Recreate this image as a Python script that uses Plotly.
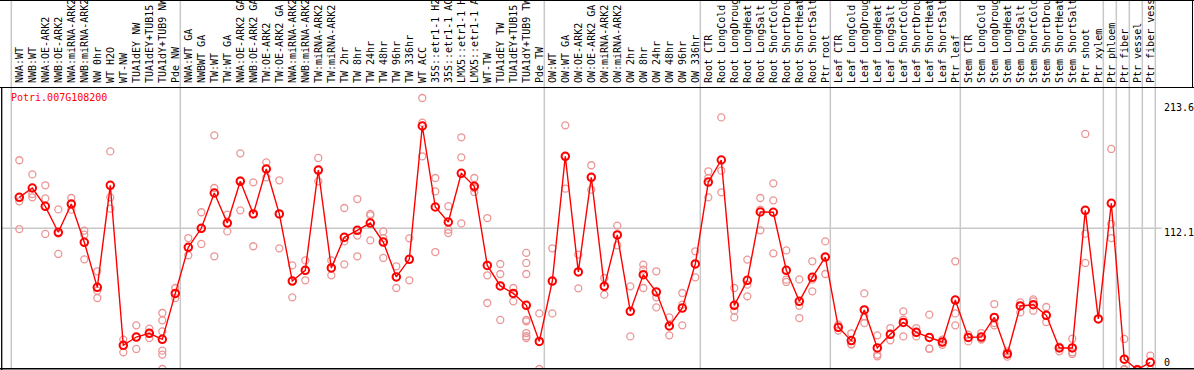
import plotly.graph_objects as go

gene_id = "Potri.007G108200"

categories = [
    "NWA:WT", "NWB:WT", "NWA:OE-ARK2", "NWB:OE-ARK2", "NWA:miRNA-ARK2", "NWB:miRNA-ARK2",
    "NW 0hr", "WT H2O", "WT-NW", "TUA1dEY NW", "TUA1dEY+TUB15 NW", "TUA1dY+TUB9 NW", "Pde NW",
    "NWA:WT GA", "NWBWT GA", "TW:WT", "TW:WT GA", "NWA:OE-ARK2 GA", "NWB:OE-ARK2 GA",
    "TW:OE-ARK2", "TW:OE-ARK2 GA", "NWA:miRNA-ARK2", "NWB:miRNA-ARK2", "TW:miRNA-ARK2",
    "TW:miRNA-ARK2", "TW 2hr", "TW 8hr", "TW 24hr", "TW 48hr", "TW 96hr", "TW 336hr",
    "WT ACC", "35S::etr1-1 H2O", "35S::etr1-1 ACC", "LMX5::etr1-1 H2O", "LMX5::etr1-1 ACC",
    "WT-TW", "TUA1dEY TW", "TUA1dEY+TUB15 TW", "TUA1dY+TUB9 TW", "Pde TW",
    "OW:WT", "OW:WT GA", "OW:OE-ARK2", "OW:OE-ARK2 GA", "OW:miRNA-ARK2", "OW:miRNA-ARK2",
    "OW 2hr", "OW 8hr", "OW 24hr", "OW 48hr", "OW 96hr", "OW 336hr",
    "Root CTR", "Root LongCold", "Root LongDrought", "Root LongHeat", "Root LongSalt",
    "Root ShortCold", "Root ShortDrought", "Root ShortHeat", "Root ShortSalt", "Ptr root",
    "Leaf CTR", "Leaf LongCold", "Leaf LongDrought", "Leaf LongHeat", "Leaf LongSalt",
    "Leaf ShortCold", "Leaf ShortDrought", "Leaf ShortHeat", "Leaf ShortSalt", "Ptr leaf",
    "Stem CTR", "Stem LongCold", "Stem LongDrought", "Stem LongHeat", "Stem LongSalt",
    "Stem ShortCold", "Stem ShortDrought", "Stem ShortHeat", "Stem ShortSalt",
    "Ptr shoot", "Ptr xylem", "Ptr phloem", "Ptr fiber", "Ptr vessel", "Ptr fiber vessel",
]

mean_values = [
    136.2, 143.5, 129.2, 109.0, 131.0, 101.2, 66.1, 145.6, 20.9, 27.4, 30.3, 25.6, 61.4,
    97.3, 112.1, 139.6, 116.2, 148.7, 123.3, 158.3, 123.3, 71.0, 79.4, 157.5, 81.2,
    105.1, 110.5, 116.2, 101.4, 74.2, 87.9, 191.8, 128.7, 117.0, 154.9, 144.8, 83.2,
    67.2, 61.4, 52.1, 24.0,
    71.0, 168.2, 78.1, 151.8, 66.9, 106.9, 47.4, 76.0, 62.5, 36.0, 50.0, 84.3,
    148.1, 165.3, 52.1, 71.6, 124.8, 124.6, 79.4, 55.2, 73.9, 89.7,
    35.0, 24.6, 48.5, 18.9, 29.5, 38.8, 31.1, 27.1, 23.5, 56.2,
    27.1, 27.4, 42.7, 14.2, 51.6, 52.6, 44.3, 18.9, 18.9,
    126.1, 41.5, 131.6, 10.1, 2.0, 7.7,
]

replicate_values = [
    [165.1, 133.1, 111.5], [154.1, 138.8, 136.2], [145.6, 135.4, 107.7], [126.8, 107.9, 92.1],
    [135.7, 131.0, 126.6], [110.3, 107.1, 87.9], [78.6, 63.5, 57.8], [172.0, 136.2, 127.4],
    [25.4, 20.9, 15.5], [36.5, 27.4, 18.1], [33.9, 30.3, 26.6],
    [46.1, 40.4, 31.8, 16.8, 13.7, 2.5], [65.6, 61.4, 57.8],
    [104.5, 97.3, 91.1], [124.6, 112.1, 99.9], [184.5, 143.5, 90.3], [122.8, 116.2, 109.7],
    [170.5, 149.5, 126.1], [147.9, 123.3, 98.1], [163.5, 158.3, 151.8], [149.5, 123.3, 96.5],
    [83.2, 71.0, 58.3], [87.1, 79.4, 71.6], [166.9, 157.5, 148.7], [87.1, 81.2, 75.5],
    [127.9, 101.9, 84.0], [134.9, 106.4, 90.3], [123.3, 122.2, 102.7], [109.7, 104.5, 89.0],
    [82.5, 74.2, 65.6], [104.3, 87.9, 71.6], [213.6, 194.4, 168.2], [151.3, 140.9, 93.6],
    [129.3, 111.0, 108.4], [183.0, 167.4, 115.9], [151.3, 143.5, 140.4], [120.1, 75.5, 53.9],
    [84.3, 76.5, 40.7], [65.6, 61.4, 55.2],
    [92.9, 85.1, 76.5, 40.7, 39.6, 30.5, 28.0, 26.6], [45.8, 24.0, 2.5],
    [96.5, 71.0, 45.8], [192.3, 168.2, 143.0], [91.6, 78.1, 65.3], [161.2, 151.8, 142.2],
    [73.4, 66.9, 60.4], [114.2, 106.9, 98.8], [66.9, 47.4, 27.9], [83.8, 79.9, 65.6],
    [78.6, 58.3, 50.5], [42.7, 36.0, 28.7], [61.7, 52.6, 36.5], [94.2, 84.3, 73.9],
    [156.5, 151.3, 136.2], [198.5, 157.0, 140.1], [65.6, 47.9, 42.7], [87.7, 68.2, 59.1],
    [135.7, 126.6, 110.5], [147.1, 133.9, 92.6], [94.9, 72.1, 70.3], [72.3, 51.8, 42.2],
    [86.4, 72.1, 63.0], [101.9, 89.7, 76.5],
    [37.0, 35.0, 32.4], [30.3, 22.0, 21.5], [61.4, 43.5, 38.3], [28.7, 13.7, 12.4],
    [34.4, 29.5, 24.8], [47.4, 40.9, 27.9], [34.4, 31.1, 27.9], [44.8, 18.3, 18.3],
    [25.4, 23.5, 21.4], [86.4, 45.8, 36.5],
    [29.2, 27.1, 24.0], [30.5, 26.1, 25.4], [53.1, 38.3, 36.5], [16.3, 14.2, 12.1],
    [54.4, 51.6, 46.6], [56.7, 55.2, 47.9], [50.8, 44.3, 39.1], [19.9, 18.9, 16.3],
    [26.1, 15.5, 14.2],
    [185.6, 107.9, 85.1], [41.5], [173.9, 115.5, 104.5], [25.9, 2.5, 2.0], [2.5, 1.5],
    [12.9, 7.7, 2.0],
]

# group separators: vertical grid lines after these category counts
separators_after = [0, 13, 41, 53, 63, 73, 84, 85, 86, 87, 88]
y_tick_labels = ["213.6", "112.1", "0"]
y_grid_value = 112.1

W, H = 1194, 370
TOP, BOT = 88, 1
plot_h = H - TOP - BOT

x_idx = list(range(len(categories)))
rep_x = [i for i, reps in enumerate(replicate_values) for _ in reps]
rep_y = [v for reps in replicate_values for v in reps]

mono = "DejaVu Sans Mono"
fig = go.Figure()
fig.add_trace(go.Scatter(
    x=rep_x, y=rep_y, mode="markers",
    marker=dict(symbol="circle-open", size=7, color="rgb(235,150,150)", line=dict(width=1.3)),
    hoverinfo="skip", showlegend=False,
))
fig.add_trace(go.Scatter(
    x=x_idx, y=mean_values, mode="lines+markers",
    line=dict(color="#ff0000", width=1.4),
    marker=dict(symbol="circle-open", size=7.5, color="#ff0000", line=dict(width=2)),
    showlegend=False,
))

ypx = lambda py: (H - BOT - py) / plot_h  # pixel row -> paper y

shapes = []
for k in separators_after:
    xv = k - 1 + 0.385
    shapes.append(dict(type="line", xref="x", yref="paper", x0=xv, x1=xv, y0=0, y1=ypx(0),
                       line=dict(color="#c8c8c8", width=1.5), layer="below"))
shapes.append(dict(type="line", xref="paper", yref="y", x0=2 / W, x1=1161.5 / W,
                   y0=y_grid_value, y1=y_grid_value, line=dict(color="#c8c8c8", width=1.5), layer="below"))
# frame lines
shapes += [
    dict(type="line", xref="paper", yref="paper", x0=0, x1=1, y0=ypx(87.5), y1=ypx(87.5), line=dict(color="black", width=1.2)),
    dict(type="line", xref="paper", yref="paper", x0=0, x1=1, y0=ypx(368.7), y1=ypx(368.7), line=dict(color="black", width=1.5)),
    dict(type="line", xref="paper", yref="paper", x0=1.7 / W, x1=1.7 / W, y0=ypx(370), y1=ypx(87.5), line=dict(color="black", width=1.3)),
    dict(type="line", xref="paper", yref="paper", x0=0, x1=1, y0=ypx(0.5), y1=ypx(0.5), line=dict(color="black", width=1)),
    dict(type="line", xref="paper", yref="paper", x0=1192.5 / W, x1=1192.5 / W, y0=ypx(0), y1=ypx(87.5), line=dict(color="black", width=1)),
]

annotations = [
    dict(text=gene_id, xref="paper", yref="paper", x=9 / W, y=ypx(97), xanchor="left", yanchor="middle",
         showarrow=False, font=dict(family=mono, size=10, color="#ff0000")),
]
for lab, py in zip(y_tick_labels, [107, 232, 362]):
    annotations.append(dict(text=lab, xref="paper", yref="paper", x=1162 / W, y=ypx(py),
                            xanchor="left", yanchor="middle", showarrow=False,
                            font=dict(family=mono, size=10, color="black")))

x0 = (0 - 19.3) / 13
x1 = (W - 19.3) / 13
y_top = (372.2 - TOP) / 1.2837
y_bot = (372.2 - (H - BOT)) / 1.2837

fig.update_layout(
    width=W, height=H, margin=dict(l=0, r=0, t=TOP, b=BOT),
    paper_bgcolor="white", plot_bgcolor="white",
    shapes=shapes, annotations=annotations,
    xaxis=dict(range=[x0, x1], side="top", tickmode="array", tickvals=x_idx, ticktext=categories,
               tickangle=-90, tickfont=dict(family=mono, size=10, color="black"),
               ticklabelstandoff=4,
               showgrid=False, zeroline=False, showline=False, ticks="", automargin=False),
    yaxis=dict(range=[y_bot, y_top], showgrid=False, zeroline=False, showticklabels=False,
               showline=False, ticks="", automargin=False),
)
fig.write_html("out.html", config={"displayModeBar": False},
               post_script="document.body.style.margin='0';document.body.style.overflow='hidden';")
